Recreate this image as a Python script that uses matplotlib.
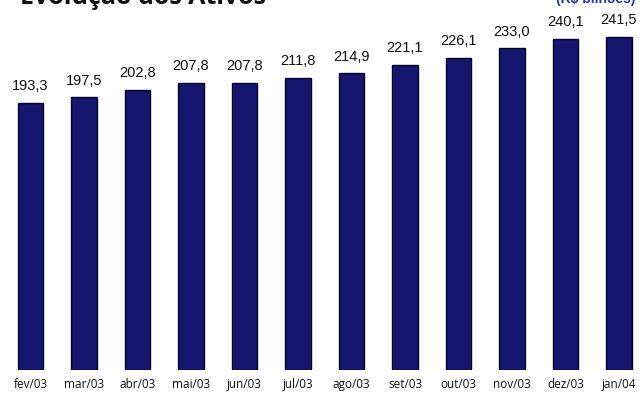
import matplotlib
matplotlib.use("Agg")
import matplotlib.pyplot as plt
import numpy

FIGSIZE = (6.4, 3.94)

meses = ["fev/03", "mar/03", "abr/03", "mai/03", "jun/03", "jul/03",
         "ago/03", "set/03", "out/03", "nov/03", "dez/03", "jan/04"]
ativos = [193.3, 197.5, 202.8, 207.8, 207.8, 211.8,
          214.9, 221.1, 226.1, 233.0, 240.1, 241.5]


def autolabel(ax, rects):
    for rect in rects:
        height = rect.get_height()
        label = ('%.1f' % height).replace('.', ',')
        ax.annotate(label, (rect.get_x() + rect.get_width() / 2., height),
                    xytext=(0, 7), textcoords='offset points',
                    ha='center', va='bottom', fontsize=10.5,
                    family='Liberation Sans', color='#111111')


fig = plt.figure(figsize=FIGSIZE, dpi=100)
ax = fig.add_axes([0.0, 24 / 394., 1.0, 370 / 394.])

x = numpy.arange(len(meses))
h = ax.bar(x, ativos, width=0.48, color='#16166e', edgecolor='#05052a', linewidth=1.0)
autolabel(ax, h)

ax.set_xlim(-0.57, 11.393)
ax.set_ylim(0, 268)
ax.set_xticks(x)
ax.set_xticklabels(meses, fontsize=8.5, family='Open Sans', color='#111111')
ax.tick_params(axis='x', length=0, pad=6)
ax.set_yticks([])
for s in ax.spines.values():
    s.set_visible(False)

# titulo cortado no topo, como no original
fig.text(20 / 640., 1 - 4 / 394., "Evolução dos Ativos", fontsize=18,
         fontweight='bold', family='Open Sans', ha='left', va='baseline', color='#111111')
fig.text(556 / 640., 1 - 3 / 394., "(R$ bilhões)", fontsize=10,
         fontweight='bold', family='Liberation Sans', ha='left', va='baseline', color='#2233aa')

fig.savefig("out.png", dpi=100)
plt.close(fig)
